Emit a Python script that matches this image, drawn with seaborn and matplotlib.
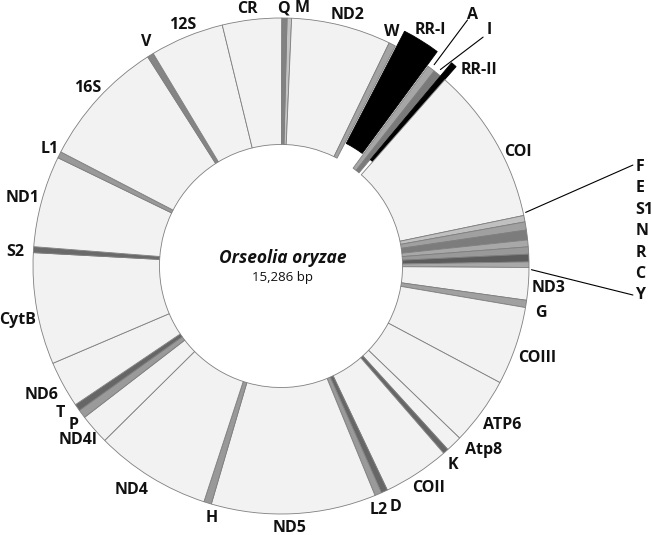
import numpy as np
import matplotlib
matplotlib.use("Agg")
import matplotlib.pyplot as plt
import seaborn as sns

# ---------------- data (clockwise from the top) ----------------
segments = ["M", "ND2", "W", "RR-I", "A", "I", "RR-II", "COI",
            "F", "E", "S1", "N", "R", "C", "Y", "ND3", "G", "COIII",
            "ATP6", "Atp8", "K", "COII", "D", "L2", "ND5", "H", "ND4",
            "ND4l", "P", "T", "ND6", "CytB", "S2", "ND1", "L1", "16S",
            "V", "12S", "CR", "Q"]
lengths_bp = [45, 994, 68, 378, 76, 76, 59, 1567,
              64, 81, 98, 68, 72, 76, 55, 323, 72, 781,
              675, 161, 55, 662, 64, 68, 1639, 76, 1155,
              301, 85, 68, 463, 1112, 59, 909, 64, 1278,
              64, 735, 590, 51]
genome_name = "Orseolia oryzae"
genome_size = "15,286 bp"

# ---------------- styles ----------------
gene_fill = "#f2f2f2"
seg_colors = {
    "M": "#c4c4c4", "Q": "#828282", "W": "#a3a3a3", "A": "#a6a6a6",
    "I": "#7a7a7a", "RR-I": "#000000", "RR-II": "#000000",
    "F": "#c0c0c0", "E": "#a0a0a0", "S1": "#7c7c7c", "N": "#a8a8a8",
    "R": "#999999", "C": "#5c5c5c", "Y": "#a8a8a8", "G": "#a0a0a0",
    "K": "#666666", "D": "#666666", "L2": "#9a9a9a", "H": "#999999",
    "P": "#9a9a9a", "T": "#666666", "S2": "#6a6a6a", "L1": "#999999",
    "V": "#858585",
}
colors = [seg_colors.get(s, gene_fill) for s in segments]
explode = [0.07 if s.startswith("RR") else 0.0 for s in segments]

# label positions (data units, ring radius = 1)
label_xy = {
    "CR": (-0.137, 1.036), "Q": (0.008, 1.040), "M": (0.085, 1.040),
    "ND2": (0.270, 1.012), "W": (0.448, 0.944), "RR-I": (0.601, 0.952),
    "A": (0.774, 1.012), "I": (0.839, 0.952), "RR-II": (0.800, 0.790),
    "COI": (0.956, 0.460),
    "F": (1.428, 0.399), "E": (1.428, 0.315), "S1": (1.428, 0.226),
    "N": (1.428, 0.141), "R": (1.428, 0.052), "C": (1.428, -0.032),
    "Y": (1.428, -0.117),
    "ND3": (1.077, -0.089), "G": (1.048, -0.190), "COIII": (1.032, -0.371),
    "ATP6": (0.891, -0.641), "Atp8": (0.815, -0.742), "K": (0.694, -0.802),
    "COII": (0.593, -0.895), "D": (0.460, -0.972), "L2": (0.395, -0.984),
    "ND5": (0.036, -1.056), "H": (-0.278, -1.016), "ND4": (-0.601, -0.903),
    "ND4l": (-0.819, -0.702), "P": (-0.835, -0.641), "T": (-0.891, -0.593),
    "ND6": (-0.964, -0.520), "CytB": (-1.060, -0.218), "S2": (-1.073, 0.056),
    "ND1": (-1.040, 0.274), "L1": (-0.931, 0.472), "16S": (-0.778, 0.718),
    "V": (-0.544, 0.903), "12S": (-0.395, 0.972),
}
left_aligned = {"F", "E", "S1", "N", "R", "C", "Y"}
# leader lines: segment -> (start radius, end point)
leaders = {
    "A": (1.02, (0.752, 0.992)),
    "I": (1.02, (0.815, 0.923)),
    "F": (1.01, (1.419, 0.407)),
    "Y": (1.01, (1.419, -0.117)),
}

# ---------------- figure ----------------
sns.set_theme(style="white")
plt.rcParams["font.family"] = ["Open Sans", "DejaVu Sans"]

W_PX, H_PX = 652, 535
CX, CY, R_PX = 281, 266, 248
fig = plt.figure(figsize=(W_PX / 100, H_PX / 100), dpi=100)
ax = fig.add_axes([0, 0, 1, 1])

wedges, _ = ax.pie(
    lengths_bp, colors=colors, explode=explode, startangle=88.6,
    counterclock=False, radius=1.0,
    wedgeprops=dict(width=0.51, edgecolor="#7f7f7f", linewidth=0.6),
)
for w, s in zip(wedges, segments):
    if s.startswith("RR"):
        w.set_edgecolor("#000000")

ax.set_xlim(-CX / R_PX, (W_PX - CX) / R_PX)
ax.set_ylim(-(H_PX - CY) / R_PX, CY / R_PX)
ax.set_aspect("auto")
ax.axis("off")

for s, (x, y) in label_xy.items():
    ha = "left" if s in left_aligned else "center"
    ax.text(x, y, s, ha=ha, va="center", fontsize=11.5, fontweight="bold",
            color="#111111")

for s, (r0, (ex, ey)) in leaders.items():
    w = wedges[segments.index(s)]
    if s == "F":
        ang = w.theta2 + 0.6
    elif s == "Y":
        ang = w.theta1 - 0.5
    else:
        ang = 0.5 * (w.theta1 + w.theta2)
    sx, sy = r0 * np.cos(np.radians(ang)), r0 * np.sin(np.radians(ang))
    ax.plot([sx, ex], [sy, ey], color="#000000", lw=0.8)

ax.text(0.008, 0.032, genome_name, ha="center", va="center", fontsize=12.5,
        fontweight="bold", fontstyle="italic", color="#111111")
ax.text(0.008, -0.048, genome_size, ha="center", va="center", fontsize=9.5,
        color="#111111")

fig.savefig("out.png", dpi=100, facecolor="white")
